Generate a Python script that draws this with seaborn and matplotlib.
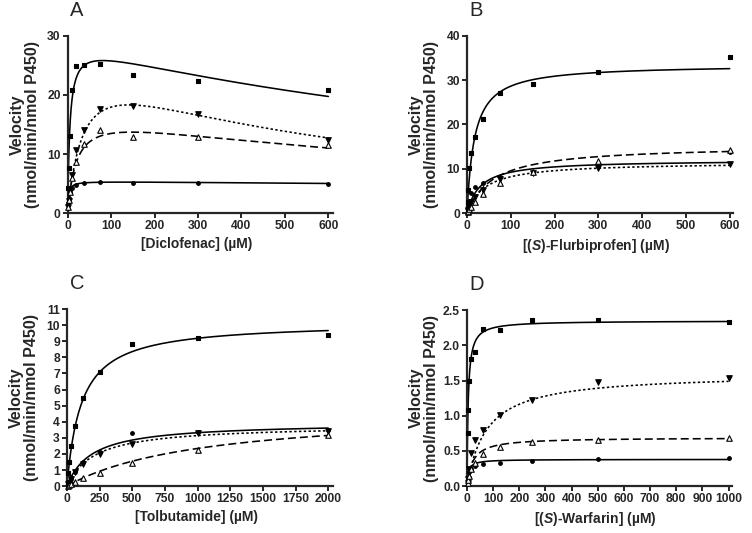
import matplotlib
matplotlib.use("Agg")

import numpy as np
import matplotlib.pyplot as plt
import seaborn as sns

# ── Data ─────────────────────────────────────────────────────────────────────
# Panel A: diclofenac
conc_a = [1.17, 2.34, 4.69, 9.38, 18.75, 37.5, 75, 150, 300, 600]
a_square = [4.3, 7.7, 13.0, 20.9, 24.9, 25.0, 25.2, 23.3, 22.4, 20.8]
a_circle = [1.8, 2.6, 3.6, 4.3, 4.7, 5.1, 5.2, 5.1, 5.1, 4.9]
a_tridown = [1.0, 2.0, 3.8, 6.4, 10.7, 14.1, 17.6, 18.1, 16.8, 12.3]
a_triup = [1.0, 2.2, 3.5, 6.0, 8.7, 11.7, 14.1, 12.8, 12.8, 11.5]

# Panel B: (S)-flurbiprofen
conc_b = [1.17, 2.34, 4.69, 9.38, 18.75, 37.5, 75, 150, 300, 600]
b_square = [2.5, 5.2, 10.2, 13.5, 17.2, 21.2, 27.1, 29.1, 31.9, 35.2]
b_circle = [0.9, 1.6, 2.8, 4.5, 5.8, 6.9, 8.1, 9.2, 11.0, 13.8]
b_tridown = [0.4, 0.8, 1.5, 2.6, 3.6, 5.3, 7.6, 9.1, 10.2, 11.0]
b_triup = [0.3, 0.5, 0.9, 1.5, 2.5, 4.3, 6.8, 9.3, 11.8, 14.3]

# Panel C: tolbutamide
conc_c = [7.8, 15.6, 31.25, 62.5, 125, 250, 500, 1000, 2000]
c_square = [0.8, 1.5, 2.5, 3.74, 5.46, 7.08, 8.86, 9.2, 9.4]
c_circle = [0.12, 0.25, 0.45, 0.9, 1.5, 2.1, 3.3, 3.38, 3.5]
c_tridown = [0.1, 0.22, 0.42, 0.85, 1.4, 2.0, 2.6, 3.3, 3.45]
c_triup = [0.03, 0.06, 0.1, 0.25, 0.48, 0.8, 1.41, 2.22, 3.15]

# Panel D: (S)-warfarin
conc_d = [1.95, 3.9, 7.8, 15.6, 31.25, 62.5, 125, 250, 500, 1000]
d_square = [0.75, 1.08, 1.5, 1.8, 1.9, 2.23, 2.22, 2.36, 2.36, 2.33]
d_circle = [0.06, 0.12, 0.2, 0.24, 0.28, 0.32, 0.33, 0.36, 0.38, 0.40]
d_tridown = [0.05, 0.1, 0.25, 0.47, 0.65, 0.80, 1.01, 1.23, 1.48, 1.53]
d_triup = [0.04, 0.08, 0.15, 0.25, 0.33, 0.45, 0.55, 0.62, 0.65, 0.69]

# Fitted kinetic parameters (Vmax, Km, Ksi) per series
# order: square, circle, tridown, triup ; Ksi = None → plain Michaelis–Menten
fit_a = [(29.0, 5.0, 1300), (5.42, 2.0, 8000), (28.2, 38.0, 520), (17.4, 20.0, 1100)]
fit_b = [(33.5, 17.0, None), (12.0, 30.0, None), (11.5, 40.0, None), (15.3, 60.0, None)]
fit_c = [(10.2, 110.0, None), (3.95, 190.0, None), (3.8, 210.0, None), (4.8, 1050.0, None)]
fit_d = [(2.35, 4.5, None), (0.38, 6.0, None), (1.6, 75.0, None), (0.69, 22.0, None)]

# ── Style ────────────────────────────────────────────────────────────────────
sns.set_theme(style="ticks")
plt.rcParams.update({
    "font.family": ["Liberation Sans", "DejaVu Sans"],
    "font.weight": "bold",
    "axes.labelweight": "bold",
    "mathtext.fontset": "custom",
    "mathtext.rm": "Liberation Sans:bold",
    "mathtext.it": "Liberation Sans:italic:bold",
    "axes.linewidth": 1.6,
    "xtick.major.width": 1.4,
    "ytick.major.width": 1.4,
    "xtick.major.size": 3.5,
    "ytick.major.size": 3.5,
    "xtick.labelsize": 8.7,
    "ytick.labelsize": 8.7,
    "axes.labelsize": 10,
})

STYLES = [
    dict(marker="s", face="black", ls="-", s=11),
    dict(marker="o", face="black", ls="-", s=7),
    dict(marker="v", face="black", ls=(0, (1.5, 1.5)), s=16),
    dict(marker="^", face="white", ls=(0, (5, 2.5)), s=16),
]


def model(x, vmax, km, ksi):
    if ksi is None:
        return vmax * x / (km + x)
    return vmax * x / (km + x * (1 + x / ksi))


def draw_panel(ax, conc, series, fits, xmax, xticks, ylim, yticks, xlabel, letter, yfmt="{:g}"):
    xs = np.concatenate([np.linspace(0, 30, 300), np.linspace(30, max(conc), 500)])
    for vals, fit, st in zip(series, fits, STYLES):
        sns.lineplot(x=xs, y=model(xs, *fit), ax=ax, color="black", linewidth=1.15,
                     linestyle=st["ls"], estimator=None, sort=False)
        sns.scatterplot(x=conc, y=vals, ax=ax, marker=st["marker"], s=st["s"],
                        color=st["face"], edgecolor="black", linewidth=0.8,
                        zorder=5, clip_on=False)
    ax.set_xlim(0, xmax)
    ax.set_ylim(*ylim)
    ax.set_xticks(xticks)
    ax.set_yticks(yticks)
    ax.set_yticklabels([yfmt.format(v) for v in yticks])
    ax.spines["top"].set_visible(False)
    ax.spines["right"].set_visible(False)
    ax.tick_params(pad=1.5)
    ax.set_xlabel(xlabel)
    ax.set_ylabel("Velocity\n(nmol/min/nmol P450)", linespacing=1.0, fontsize=11.5)
    ax.yaxis.set_label_coords(-0.105, 0.5)
    ax.xaxis.set_label_coords(0.485, -0.135)
    ax.text(0.01, 1.09, letter, transform=ax.transAxes, fontsize=14.5,
            fontweight="normal", ha="left", va="bottom")


fig = plt.figure(figsize=(7.52, 5.33), dpi=100)
ax_a = fig.add_axes([0.090, 0.600, 0.353, 0.333])
ax_b = fig.add_axes([0.621, 0.600, 0.354, 0.333])
ax_c = fig.add_axes([0.089, 0.088, 0.354, 0.332])
ax_d = fig.add_axes([0.621, 0.088, 0.352, 0.330])

draw_panel(ax_a, conc_a, [a_square, a_circle, a_tridown, a_triup], fit_a,
           611, range(0, 601, 100), (0, 30), [0, 10, 20, 30],
           "[Diclofenac] (µM)", "A")
draw_panel(ax_b, conc_b, [b_square, b_circle, b_tridown, b_triup], fit_b,
           608, range(0, 601, 100), (0, 40), [0, 10, 20, 30, 40],
           "[($\\mathit{S}$)-Flurbiprofen] (µM)", "B")
draw_panel(ax_c, conc_c, [c_square, c_circle, c_tridown, c_triup], fit_c,
           2038, range(0, 2001, 250), (0, 11), list(range(0, 12)),
           "[Tolbutamide] (µM)", "C")
draw_panel(ax_d, conc_d, [d_square, d_circle, d_tridown, d_triup], fit_d,
           1012, range(0, 1001, 100), (0, 2.5), [0, 0.5, 1.0, 1.5, 2.0, 2.5],
           "[($\\mathit{S}$)-Warfarin] (µM)", "D", yfmt="{:.1f}")

fig.savefig("out.png", dpi=100)
